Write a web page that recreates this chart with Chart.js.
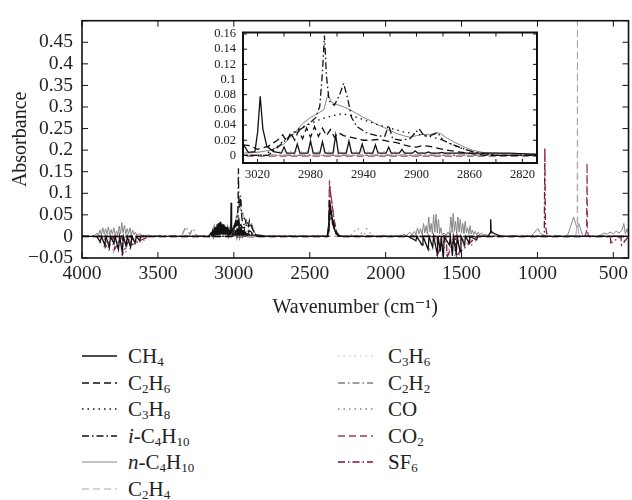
<!DOCTYPE html>
<html>
<head>
<meta charset="utf-8">
<title>Absorbance spectra</title>
<script src="https://cdn.jsdelivr.net/npm/chart.js@4.4.1/dist/chart.umd.min.js"></script>
<style>
  body { margin: 0; background: #fff; }
  #page { position: relative; width: 632px; height: 500px; overflow: hidden; font-family: "Liberation Serif", "DejaVu Serif", serif; color: #222; }
  #mainChart { position: absolute; left: 0; top: 0; }
  #insetChart { position: absolute; left: 190px; top: 18px; }
  .leg { position: absolute; height: 26px; line-height: 26px; font-size: 21px; white-space: nowrap; }
  .leg svg { position: absolute; left: 0; top: 0; }
  .leg span { position: absolute; top: 0; }
  .leg sub { font-size: 13px; vertical-align: -3px; line-height: 0; }
</style>
</head>
<body>
<div id="page">
  <canvas id="mainChart" width="632" height="330"></canvas>
  <canvas id="insetChart" width="352" height="172"></canvas>
  <div id="legend"></div>
</div>
<script>
// Axis ticks (wavenumber in cm-1, absorbance)
const xTicks = [4000, 3500, 3000, 2500, 2000, 1500, 1000, 500];
const yTicks = [-0.05, 0, 0.05, 0.1, 0.15, 0.2, 0.25, 0.3, 0.35, 0.4, 0.45, 0.5];
const insetXTicks = [3020, 3000, 2980, 2960, 2940, 2920, 2900, 2880, 2860, 2840, 2820];
const insetXLabels = [3020, 2980, 2940, 2900, 2860, 2820];
const insetYTicks = [0, 0.02, 0.04, 0.06, 0.08, 0.1, 0.12, 0.14, 0.16];

const seriesLabels = ['CH₄', 'C₂H₆', 'C₃H₈', 'i-C₄H₁₀', 'n-C₄H₁₀', 'C₂H₄', 'C₃H₆', 'C₂H₂', 'CO', 'CO₂', 'SF₆'];

// CH4
const ch4Wn = [4000, 3905, 3880, 3872, 3850, 3842, 3820, 3812, 3790, 3782, 3760, 3752, 3735, 3727, 3710, 3702, 3680, 3672, 3650, 3642, 3620, 3612, 3560,
  3165, 3150, 3146, 3140, 3136, 3130, 3126, 3120, 3116, 3110, 3106, 3100, 3096, 3090, 3086, 3080, 3076, 3070, 3066, 3060, 3056, 3050, 3046, 3040, 3036, 3031, 3027,
  3022, 3020, 3018, 3016, 3013, 3008, 3002, 3000, 2998, 2992, 2990, 2988, 2982, 2980, 2978, 2973, 2971, 2969, 2963, 2961, 2959, 2953, 2951, 2949,
  2943, 2941, 2939, 2933, 2931, 2929, 2923, 2921, 2919, 2913, 2911, 2909, 2903, 2901, 2899, 2893, 2891, 2889, 2883, 2881, 2879, 2860, 2830, 2790,
  2385, 2374, 2369, 2364, 2356, 2345, 2330, 2310,
  1850, 1800, 1794, 1760, 1754, 1720, 1714, 1690, 1684, 1660, 1654, 1640, 1634, 1620, 1614, 1580, 1574, 1560, 1554, 1535, 1529, 1510, 1504, 1480, 1474, 1450, 1444, 1400, 1394,
  1325, 1312, 1308, 1305, 1300, 1290, 1280, 1268, 1250, 1235, 400];
const ch4Abs = [0, 0, -0.012, 0, -0.02, 0, -0.026, 0, -0.016, 0, -0.03, 0, -0.036, 0, -0.022, 0, -0.025, 0, -0.015, 0, -0.01, 0, 0,
  0, 0.008, 0.001, 0.012, 0.002, 0.018, 0.002, 0.022, 0.003, 0.028, 0.003, 0.031, 0.003, 0.034, 0.004, 0.03, 0.004, 0.028, 0.004, 0.025, 0.004, 0.022, 0.004, 0.018, 0.004, 0.015, 0.004,
  0.005, 0.03, 0.078, 0.035, 0.012, 0.005, 0.003, 0.011, 0.003, 0.003, 0.015, 0.003, 0.003, 0.019, 0.003, 0.003, 0.018, 0.003, 0.003, 0.027, 0.003, 0.003, 0.019, 0.003,
  0.003, 0.015, 0.003, 0.003, 0.014, 0.003, 0.003, 0.011, 0.003, 0.003, 0.008, 0.003, 0.003, 0.006, 0.003, 0.003, 0.0045, 0.003, 0.003, 0.004, 0.003, 0.003, 0.003, 0,
  0, 0.03, 0.085, 0.07, 0.05, 0.03, 0.01, 0,
  0, -0.01, 0, -0.02, 0, -0.03, 0, -0.025, 0, -0.04, 0, -0.035, 0, -0.05, 0, -0.02, 0, -0.045, 0, -0.04, 0, -0.035, 0, -0.02, 0, -0.015, 0, -0.008, 0,
  0, 0.008, 0.04, 0.012, 0.01, 0.008, 0.006, 0.004, 0.002, 0, 0];

// C2H6
const c2h6Wn = [4000, 3040, 3031, 3026, 3020, 3012, 3005, 3001, 2998, 2995, 2992, 2989, 2986, 2983, 2980, 2977,
  2974, 2971, 2968, 2965, 2962, 2959, 2955, 2950, 2945, 2940, 2935, 2930, 2925, 2920, 2915, 2910, 2905, 2900, 2895, 2890,
  2885, 2880, 2870, 2860, 2848, 2380, 2372, 2368, 2362, 2350, 2335, 2318, 2300, 400];
const c2h6Abs = [0, 0, 0.014, 0.013, 0.008, 0.012, 0.02, 0.027, 0.018, 0.03, 0.02, 0.033, 0.022, 0.036, 0.024, 0.038,
  0.025, 0.036, 0.026, 0.034, 0.024, 0.03, 0.026, 0.024, 0.022, 0.02, 0.02, 0.021, 0.02, 0.018, 0.017, 0.014, 0.012, 0.011, 0.013, 0.012,
  0.01, 0.008, 0.005, 0.003, 0, 0, 0.03, 0.075, 0.06, 0.04, 0.02, 0.005, 0, 0];

// C3H8
const c3h8Wn = [4000, 3015, 3005, 2995, 2988, 2980, 2972, 2964, 2956, 2948, 2940, 2930, 2920, 2910, 2900, 2890, 2880, 2870, 2860, 2850,
  2838, 2378, 2370, 2366, 2358, 2345, 2325, 2310, 400];
const c3h8Abs = [0, 0, 0.012, 0.028, 0.036, 0.042, 0.048, 0.052, 0.055, 0.052, 0.047, 0.041, 0.036, 0.031, 0.028, 0.025, 0.02, 0.012, 0.006, 0.002,
  0, 0, 0.03, 0.06, 0.045, 0.025, 0.005, 0, 0];

// i-C4H10
const iC4h10Wn = [4000, 3012, 3004, 2996, 2988, 2981, 2976, 2973, 2971, 2969.5, 2968, 2966, 2962, 2958, 2955, 2952, 2949, 2945, 2938, 2930,
  2924, 2921, 2918, 2912, 2905, 2898, 2894, 2888, 2884, 2880, 2874, 2866, 2858, 2848, 2838, 2378, 2371, 2367, 2360, 2348, 2330, 2312, 400];
const iC4h10Abs = [0, 0, 0.012, 0.025, 0.034, 0.042, 0.05, 0.065, 0.11, 0.158, 0.105, 0.072, 0.066, 0.08, 0.095, 0.075, 0.05, 0.038, 0.03, 0.026,
  0.025, 0.04, 0.022, 0.02, 0.022, 0.035, 0.025, 0.027, 0.03, 0.02, 0.015, 0.01, 0.005, 0.002, 0, 0, 0.03, 0.07, 0.05, 0.03, 0.01, 0, 0];

// n-C4H10
const nC4h10Wn = [4000, 3920, 3900, 3891, 3882, 3873, 3863, 3854, 3845, 3836, 3826, 3818, 3808, 3800, 3790, 3782, 3772, 3764, 3755, 3746,
  3738, 3730, 3720, 3712, 3702, 3694, 3684, 3676, 3666, 3658, 3648, 3640, 3620, 3600, 3560, 3540,
  3040, 3030, 3020, 3010, 3000, 2992, 2986, 2980, 2974, 2970, 2967, 2964, 2960, 2955, 2950, 2945, 2940, 2935, 2930, 2925,
  2920, 2915, 2910, 2905, 2900, 2895, 2890, 2885, 2882, 2878, 2872, 2865, 2858, 2850, 2840, 2830, 2810, 2780,
  2378, 2369, 2362, 2350, 2335, 2315,
  1900, 1880, 1862, 1842, 1826, 1810, 1800, 1790, 1780, 1770, 1760, 1750, 1742, 1733, 1725, 1716, 1708, 1700, 1692, 1684,
  1676, 1668, 1660, 1652, 1644, 1636, 1628, 1615, 1600, 1590, 1580, 1570, 1562, 1555, 1547, 1540, 1532, 1524, 1516, 1508,
  1500, 1492, 1484, 1476, 1468, 1460, 1452, 1444, 1436, 1428, 1420, 1410, 1400, 1390, 1380, 1370, 1350, 1340, 1320,
  1045, 1022, 1006, 996, 985, 970, 950, 920,
  805, 792, 780, 770, 762, 757, 750, 744, 738, 728, 714, 700,
  600, 580, 562, 540, 522, 500, 482, 462, 442, 431, 421, 410, 400];
const nC4h10Abs = [0, 0, 0.008, 0.002, 0.015, 0.004, 0.02, 0.005, 0.018, 0.006, 0.022, 0.004, 0.016, 0.005, 0.02, 0.006, 0.012, 0.004, 0.024, 0.006,
  0.032, 0.008, 0.026, 0.005, 0.018, 0.006, 0.02, 0.004, 0.015, 0.004, 0.01, 0.003, 0.006, 0.002, 0.003, 0,
  0, 0.003, 0.004, 0.007, 0.015, 0.03, 0.042, 0.05, 0.056, 0.06, 0.08, 0.07, 0.067, 0.064, 0.06, 0.055, 0.05, 0.046, 0.041, 0.037,
  0.033, 0.029, 0.026, 0.024, 0.026, 0.028, 0.027, 0.03, 0.029, 0.024, 0.018, 0.012, 0.007, 0.004, 0.003, 0.002, 0.002, 0,
  0, 0.05, 0.042, 0.03, 0.012, 0,
  0, 0.005, 0.002, 0.01, 0.003, 0.012, 0.004, 0.02, 0.006, 0.018, 0.005, 0.03, 0.008, 0.025, 0.006, 0.045, 0.01, 0.03, 0.006, 0.05,
  0.01, 0.052, 0.008, 0.04, 0.006, 0.02, 0.004, 0.008, 0.002, 0.01, 0.004, 0.045, 0.01, 0.053, 0.012, 0.035, 0.008, 0.045, 0.01, 0.04,
  0.008, 0.03, 0.006, 0.035, 0.008, 0.02, 0.005, 0.025, 0.006, 0.015, 0.004, 0.012, 0.003, 0.01, 0.003, 0.008, 0.003, 0.005, 0,
  0, 0.008, 0.015, 0.018, 0.01, 0.005, 0.002, 0,
  0, 0.012, 0.025, 0.035, 0.045, 0.04, 0.03, 0.025, 0.02, 0.03, 0.015, 0,
  0, 0.004, 0.008, 0.005, 0.01, 0.006, 0.012, 0.008, 0.015, 0.03, 0.006, 0.018, 0.004];

// C2H4
const c2h4Wn = [4000, 748, 738, 736.5, 735, 725, 400];
const c2h4Abs = [0, 0, 0.03, 0.56, 0.03, 0, 0];

// C3H6
const c3h6Wn = [4000, 3110, 3092, 3080, 3060, 3000, 2960, 2920, 2880, 2845, 2376, 2368, 2355, 2335, 2315, 400];
const c3h6Abs = [0, 0, 0.008, 0.006, 0.004, 0.005, 0.006, 0.005, 0.003, 0, 0, 0.04, 0.03, 0.015, 0, 0];

// C2H2
const c2h2Wn = [4000, 3345, 3332, 3322, 3313, 3305, 3296, 3288, 3280, 3271, 3262, 3252, 3240, 2376, 2368, 2352, 2330, 2312, 400];
const c2h2Abs = [0, 0, 0.01, 0.018, 0.022, 0.015, 0.008, 0.005, 0.012, 0.018, 0.014, 0.006, 0, 0, 0.045, 0.03, 0.01, 0, 0];

// CO
const coWn = [4000, 3890, 3884, 3860, 3854, 3832, 3826, 3800, 3794, 3770, 3764, 3745, 3739, 3718, 3712, 3690, 3684, 3660, 3654, 3620,
  3614, 3560, 2240, 2220, 2205, 2195, 2185, 2175, 2165, 2152, 2143, 2135, 2125, 2117, 2108, 2095, 2080, 2060,
  1800, 1780, 1774, 1720, 1714, 1670, 1664, 1630, 1624, 1600, 1594, 1550, 1544, 1520, 1514, 1490, 1484, 1440, 1434, 1380, 400];
const coAbs = [0, 0, -0.02, 0, -0.03, 0, -0.035, 0, -0.04, 0, -0.03, 0, -0.045, 0, -0.038, 0, -0.03, 0, -0.02, 0,
  -0.015, 0, 0, 0.005, 0.012, 0.018, 0.02, 0.014, 0.01, 0.004, 0.002, 0.01, 0.018, 0.016, 0.01, 0.004, 0.002, 0,
  0, 0, -0.02, 0, -0.035, 0, -0.05, 0, -0.06, 0, -0.04, 0, -0.055, 0, -0.045, 0, -0.03, 0, -0.02, 0, 0];

// CO2
const co2Wn = [4000, 2385, 2376, 2370, 2367, 2362, 2356, 2348, 2338, 2325, 2305, 690, 677, 673, 671, 668, 660, 400];
const co2Abs = [-0.001, -0.001, 0.02, 0.13, 0.115, 0.1, 0.085, 0.06, 0.035, 0.012, -0.001, -0.001, 0.01, 0.17, 0.02, 0.008, -0.001, -0.001];

// SF6
const sf6Wn = [4000, 3850, 3846, 3790, 3786, 3735, 3731, 3680, 3676, 3560, 2382, 2374, 2369, 2363, 2352, 2338, 2320, 2300,
  1700, 1660, 1656, 1600, 1596, 1540, 1536, 1400, 965, 955, 951, 948, 940, 925, 600, 520, 516, 450, 446, 400];
const sf6Abs = [0, 0, -0.025, 0, -0.03, 0, -0.04, 0, -0.02, 0, 0, 0.03, 0.12, 0.1, 0.07, 0.035, 0.008, 0,
  0, 0, -0.04, 0, -0.05, 0, -0.045, 0, 0, 0.01, 0.205, 0.03, 0.008, 0, 0, 0, -0.015, 0, -0.02, 0];

const seriesWn = [ch4Wn, c2h6Wn, c3h8Wn, iC4h10Wn, nC4h10Wn, c2h4Wn, c3h6Wn, c2h2Wn, coWn, co2Wn, sf6Wn];
const seriesAbs = [ch4Abs, c2h6Abs, c3h8Abs, iC4h10Abs, nC4h10Abs, c2h4Abs, c3h6Abs, c2h2Abs, coAbs, co2Abs, sf6Abs];

// line styles
const lineColors = ['#111111', '#111111', '#111111', '#111111', '#858585', '#a9a9a9', '#b8b8b8', '#808080', '#b86a8c', '#9c3d68', '#7b1242'];
const lineDashes = [[], [7, 4], [1.5, 4], [7, 3, 1.5, 3], [], [7, 4], [1.5, 4], [7, 3, 1.5, 3], [1.5, 4], [7, 4], [7, 3, 1.5, 3]];
const lineWidths = [1.3, 1.3, 1.3, 1.3, 1, 1, 1, 1.2, 1.2, 1.3, 1.3];

const FONT = '"Liberation Serif", "DejaVu Serif", serif';
Chart.defaults.font.family = FONT;
Chart.defaults.color = '#222';

function makeDatasets() {
  return seriesLabels.map((label, k) => ({
    label: label,
    data: seriesWn[k].map((w, i) => ({ x: w, y: seriesAbs[k][i] })),
    borderColor: lineColors[k],
    borderWidth: lineWidths[k],
    borderDash: lineDashes[k],
    pointRadius: 0,
    tension: 0,
    fill: false
  }));
}

// frame with inward tick marks on all four sides
const frameTicks = {
  id: 'frameTicks',
  beforeDatasetsDraw(chart, args, opts) {
    if (!opts.fillArea) return;
    const a = chart.chartArea;
    chart.ctx.save();
    chart.ctx.fillStyle = '#fff';
    chart.ctx.fillRect(a.left, a.top, a.right - a.left, a.bottom - a.top);
    chart.ctx.restore();
  },
  afterDraw(chart, args, opts) {
    const ctx = chart.ctx, a = chart.chartArea;
    const x = chart.scales.x, y = chart.scales.y;
    ctx.save();
    ctx.strokeStyle = '#111';
    ctx.lineWidth = 1;
    ctx.beginPath();
    x.ticks.forEach(t => {
      const px = x.getPixelForValue(t.value);
      ctx.moveTo(px, a.bottom); ctx.lineTo(px, a.bottom - opts.len);
      ctx.moveTo(px, a.top); ctx.lineTo(px, a.top + opts.len);
    });
    y.ticks.forEach(t => {
      const py = y.getPixelForValue(t.value);
      ctx.moveTo(a.left, py); ctx.lineTo(a.left + opts.len, py);
      ctx.moveTo(a.right, py); ctx.lineTo(a.right - opts.len, py);
    });
    ctx.stroke();
    ctx.lineWidth = opts.border;
    ctx.strokeRect(a.left, a.top, a.right - a.left, a.bottom - a.top);
    ctx.restore();
  }
};

function numLabel(v) {
  if (v === 0) return '0';
  return v < 0 ? '\u2212' + String(-v) : String(v);
}

// main spectrum
const mainChart = new Chart(document.getElementById('mainChart'), {
  type: 'line',
  data: { datasets: makeDatasets() },
  plugins: [frameTicks],
  options: {
    responsive: false,
    animation: false,
    events: [],
    layout: { padding: { top: 14, right: 1, left: 0, bottom: 0 } },
    plugins: {
      legend: { display: false },
      tooltip: { enabled: false },
      frameTicks: { len: 6, border: 1.6, fillArea: false }
    },
    scales: {
      x: {
        type: 'linear', reverse: true, min: 400, max: 4000,
        grid: { display: false, drawTicks: false }, border: { display: false },
        afterBuildTicks: s => { s.ticks = xTicks.map(v => ({ value: v })); },
        afterFit: s => { s.height = 72; },
        ticks: { font: { family: FONT, size: 19.5 }, color: '#222', padding: 4, maxRotation: 0, autoSkip: false,
          callback: v => String(v) },
        title: { display: true, text: 'Wavenumber (cm\u207B\u00B9)', font: { family: FONT, size: 20 }, color: '#222',
          padding: { top: 0, bottom: 10 } }
      },
      y: {
        type: 'linear', min: -0.05, max: 0.5,
        grid: { display: false, drawTicks: false }, border: { display: false },
        afterBuildTicks: s => { s.ticks = yTicks.map(v => ({ value: v })); },
        afterFit: s => { s.width = 82; },
        ticks: { font: { family: FONT, size: 19.5 }, color: '#222', padding: 9, autoSkip: false,
          callback: v => (v >= 0.5 ? '' : numLabel(v)) },
        title: { display: true, text: 'Absorbance', font: { family: FONT, size: 20 }, color: '#222',
          padding: { top: 9, bottom: 0 } }
      }
    }
  }
});

// inset: zoom on 3030-2810 cm-1
const insetChart = new Chart(document.getElementById('insetChart'), {
  type: 'line',
  data: { datasets: makeDatasets() },
  plugins: [frameTicks],
  options: {
    responsive: false,
    animation: false,
    events: [],
    layout: { padding: { top: 9, right: 5, left: 0, bottom: 0 } },
    plugins: {
      legend: { display: false },
      tooltip: { enabled: false },
      frameTicks: { len: 4, border: 2, fillArea: true }
    },
    scales: {
      x: {
        type: 'linear', reverse: true, min: 2809, max: 3031,
        grid: { display: false, drawTicks: false }, border: { display: false },
        afterBuildTicks: s => { s.ticks = insetXTicks.map(v => ({ value: v })); },
        afterFit: s => { s.height = 27; },
        ticks: { font: { family: FONT, size: 12.5 }, color: '#222', padding: 4, maxRotation: 0, autoSkip: false,
          callback: v => (insetXLabels.includes(v) ? String(v) : '') }
      },
      y: {
        type: 'linear', min: -0.01, max: 0.162,
        grid: { display: false, drawTicks: false }, border: { display: false },
        afterBuildTicks: s => { s.ticks = insetYTicks.map(v => ({ value: v })); },
        afterFit: s => { s.width = 53; },
        ticks: { font: { family: FONT, size: 12.5 }, color: '#222', padding: 7, autoSkip: false,
          callback: v => numLabel(v) }
      }
    }
  }
});

// legend below the plot, two columns
const legendCols = [
  { lineX: 82, textX: 128, first: 0, count: 6 },
  { lineX: 338, textX: 388, first: 6, count: 5 }
];
function labelHtml(label) {
  return label
    .replace(/^([in])-/, '<i>$1</i>-')
    .replace(/[\u2080-\u2089]+/g, m => '<sub>' + Array.from(m).map(c => c.charCodeAt(0) - 0x2080).join('') + '</sub>');
}
const legend = document.getElementById('legend');
legendCols.forEach(col => {
  for (let r = 0; r < col.count; r++) {
    const k = col.first + r;
    const rowY = 356 + 26.5 * r;
    const item = document.createElement('div');
    item.className = 'leg';
    item.style.left = col.lineX + 'px';
    item.style.top = (rowY - 13) + 'px';
    const dash = lineDashes[k].length ? lineDashes[k].join(' ') : 'none';
    item.innerHTML = '<svg width="35" height="26"><line x1="0" y1="13" x2="35" y2="13" stroke="' + lineColors[k] +
      '" stroke-width="' + (lineWidths[k] + 0.2) + '" stroke-dasharray="' + dash + '"/></svg>' +
      '<span style="left:' + (col.textX - col.lineX) + 'px">' + labelHtml(seriesLabels[k]) + '</span>';
    legend.appendChild(item);
  }
});
</script>
</body>
</html>
